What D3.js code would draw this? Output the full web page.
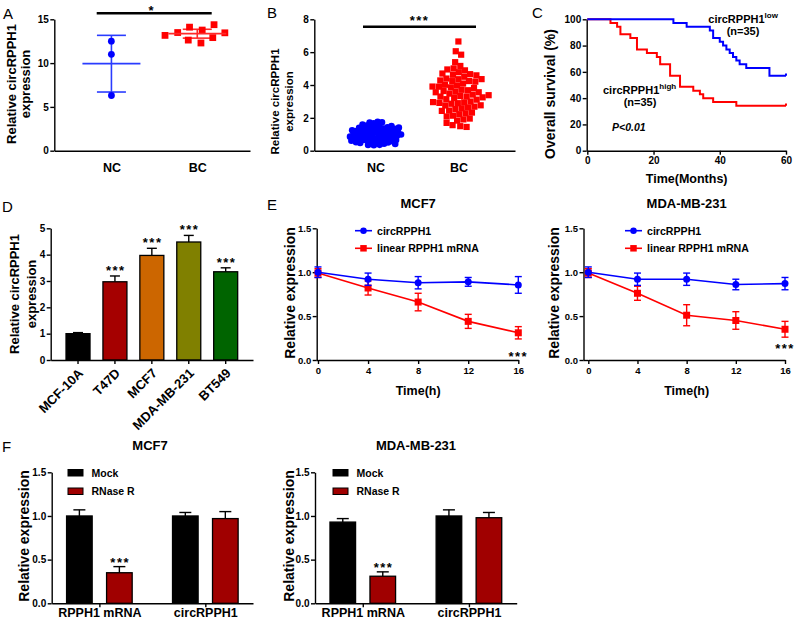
<!DOCTYPE html>
<html>
<head>
<meta charset="utf-8">
<script src="https://cdn.jsdelivr.net/npm/d3@7"></script>
<style>
  body { margin: 0; background: #fff; }
  svg text { font-family: "Liberation Sans", Arial, Helvetica, sans-serif; }
</style>
</head>
<body>
<svg id="fig" width="800" height="625"></svg>
<script>
// ---------- data ----------
const groupsAB = ["NC", "BC"];
// panel A: individual samples
const aNC = [12.5, 11.0, 6.3];
const aBC = [13.2, 13.6, 13.1, 13.4, 14.2, 13.4, 13.9, 12.8, 12.6];
// panel B: individual samples
const bNC = [0.42, 0.5, 0.53, 0.57, 0.6, 0.61, 0.63, 0.64, 0.66, 0.68, 0.69, 0.7, 0.72, 0.73, 0.75, 0.76,
  0.77, 0.79, 0.8, 0.81, 0.82, 0.84, 0.85, 0.86, 0.87, 0.88, 0.9, 0.9, 0.91, 0.93, 0.94, 0.95, 0.96,
  0.97, 0.98, 1.0, 1.01, 1.02, 1.03, 1.05, 1.06, 1.07, 1.09, 1.1, 1.11, 1.13, 1.14, 1.16, 1.17, 1.19,
  1.2, 1.22, 1.24, 1.25, 1.28, 1.3, 1.33, 1.36, 1.4, 1.44, 1.48, 1.53, 1.58, 1.64, 1.7, 1.76];
const bBC = [6.65, 6.05, 5.85, 5.35, 5.1, 5.0, 4.95, 4.85, 4.8, 4.7, 4.65, 4.55, 4.5, 4.45, 4.4, 4.35,
  4.3, 4.25, 4.2, 4.15, 4.1, 4.05, 4.0, 3.95, 3.9, 3.85, 3.8, 3.75, 3.72, 3.7, 3.65, 3.6, 3.55, 3.5,
  3.45, 3.42, 3.4, 3.38, 3.35, 3.3, 3.25, 3.2, 3.15, 3.1, 3.05, 3.0, 2.98, 2.95, 2.9, 2.85, 2.8, 2.75,
  2.7, 2.65, 2.6, 2.55, 2.5, 2.45, 2.4, 2.35, 2.3, 2.2, 2.1, 2.0, 1.9, 1.8, 1.7, 1.62, 1.55, 1.45];

// panel C: Kaplan-Meier steps (month, survival %)
const lowTimes = [26, 30, 37, 38, 40, 41, 42, 43, 44, 45, 46, 48, 55];
const lowSurv = [97.1, 94.3, 91.4, 85.7, 82.9, 80.0, 77.1, 74.3, 71.4, 68.6, 65.7, 62.9, 57.1];
const highTimes = [7, 9, 10, 13, 15, 18, 21, 22, 25, 28, 32, 34, 35, 38, 45];
const highSurv = [97.1, 94.3, 88.6, 85.7, 77.1, 74.3, 71.4, 65.7, 57.1, 48.6, 45.7, 42.9, 40.0, 37.1, 34.3];

// panel D
const cellLines = ["MCF-10A", "T47D", "MCF7", "MDA-MB-231", "BT549"];
const cellMean = [1.0, 2.97, 3.97, 4.48, 3.35];
const cellErr = [0.04, 0.22, 0.27, 0.25, 0.15];
const cellColors = ["#000000", "#a50000", "#cc6600", "#808000", "#006400"];

// panel E
const hours = [0, 4, 8, 12, 16];
const mcf7Circ = [1.0, 0.92, 0.88, 0.89, 0.855];
const mcf7CircErr = [0.06, 0.07, 0.07, 0.05, 0.095];
const mcf7Lin = [0.99, 0.82, 0.66, 0.44, 0.31];
const mcf7LinErr = [0.05, 0.08, 0.1, 0.08, 0.07];
const mdaCirc = [1.0, 0.92, 0.92, 0.86, 0.87];
const mdaCircErr = [0.06, 0.07, 0.07, 0.06, 0.07];
const mdaLin = [0.99, 0.76, 0.51, 0.45, 0.35];
const mdaLinErr = [0.05, 0.08, 0.12, 0.1, 0.09];

// panel F
const rnaTargets = ["RPPH1 mRNA", "circRPPH1"];
const treatments = ["Mock", "RNase R"];
const mcf7Mock = [1.0, 1.0];
const mcf7MockErr = [0.07, 0.04];
const mcf7Rnase = [0.35, 0.97];
const mcf7RnaseErr = [0.07, 0.08];
const mdaMock = [0.93, 1.0];
const mdaMockErr = [0.04, 0.07];
const mdaRnase = [0.31, 0.98];
const mdaRnaseErr = [0.05, 0.06];

const BLUE = "#0000ff";
const RED = "#ff0000";
const FONT = "'Liberation Sans', Arial, Helvetica, sans-serif";

const svg = d3.select("#fig");

// ---------- helpers ----------
function addText(x, y, s, o = {}) {
  return svg.append("text").attr("x", x).attr("y", y).text(s)
    .attr("font-size", o.size || 12)
    .attr("font-weight", o.weight || "bold")
    .attr("font-style", o.style || "normal")
    .attr("text-anchor", o.anchor || "start")
    .attr("letter-spacing", o.ls || 0)
    .attr("fill", o.fill || "#000");
}

function panelLetter(x, y, s) {
  addText(x, y, s, { size: 15, weight: "normal" });
}

function yTitle(lines, cy, size) {
  lines.forEach(([s, bx]) => {
    svg.append("text")
      .attr("transform", `translate(${bx},${cy}) rotate(-90)`)
      .attr("text-anchor", "middle")
      .attr("font-size", size)
      .attr("font-weight", "bold")
      .text(s);
  });
}

function styleAxis(g, fs) {
  g.attr("font-family", FONT).attr("font-size", fs);
  g.select(".domain").attr("stroke-width", 1.4);
  g.selectAll(".tick line").attr("stroke-width", 1.4);
  g.selectAll(".tick text").attr("font-weight", "bold").attr("fill", "#000");
}

function yAxis(x, y, ticks, fmt, fs = 10) {
  const g = svg.append("g").attr("transform", `translate(${x},0)`)
    .call(d3.axisLeft(y).tickValues(ticks).tickFormat(fmt).tickSize(4).tickSizeOuter(0).tickPadding(1.5));
  styleAxis(g, fs);
  return g;
}

function xAxis(y0, scale, o) {
  let ax = d3.axisBottom(scale).tickSize(o.tick).tickSizeOuter(0).tickPadding(o.pad);
  if (o.values) ax = ax.tickValues(o.values);
  if (o.fmt) ax = ax.tickFormat(o.fmt);
  const g = svg.append("g").attr("transform", `translate(0,${y0})`).call(ax);
  styleAxis(g, o.fs);
  return g;
}

function marker(g, shape, cx, cy, color, size) {
  if (shape === "circle") {
    g.append("circle").attr("cx", cx).attr("cy", cy).attr("r", size / 2).attr("fill", color);
  } else {
    g.append("rect").attr("x", cx - size / 2).attr("y", cy - size / 2)
      .attr("width", size).attr("height", size).attr("fill", color);
  }
}

function vline(g, x, y1, y2, color, w) {
  g.append("line").attr("x1", x).attr("x2", x).attr("y1", y1).attr("y2", y2)
    .attr("stroke", color).attr("stroke-width", w);
}
function hline(g, x1, x2, y, color, w) {
  g.append("line").attr("x1", x1).attr("x2", x2).attr("y1", y).attr("y2", y)
    .attr("stroke", color).attr("stroke-width", w);
}

// simple beeswarm: y fixed by value, x pushed apart by collisions
function swarm(values, cx, y, r) {
  const nodes = values.map((v, i) => ({ v, x: cx + ((i % 5) - 2) * 0.6, y: y(v) }));
  d3.forceSimulation(nodes)
    .force("x", d3.forceX(cx).strength(0.04))
    .force("y", d3.forceY(d => y(d.v)).strength(0.9))
    .force("c", d3.forceCollide(r))
    .stop()
    .tick(300);
  return nodes;
}

// ---------- A ----------
panelLetter(3, 19.3, "A");
const yA = d3.scaleLinear().domain([0, 15]).range([150.7, 19.3]);
const xA = d3.scalePoint().domain(groupsAB).range([54.3, 250]).padding(0.64).align(0.52);
yAxis(54.3, yA, [0, 5, 10, 15], d3.format("d"));
xAxis(150.7, xA, { tick: 0, pad: 12, fs: 12.5 });
yTitle([["Relative circRPPH1", 16.4], ["expression", 29.5]], 84, 13);

const gA = svg.append("g");
[[aNC, "NC", "#2a3cff", BLUE, "circle", 3.6], [aBC, "BC", "#ff2a2a", RED, "square", 6.5]].forEach(([vals, grp, lc, mc, shape, cr]) => {
  const cx = xA(grp);
  const m = d3.mean(vals), sd = d3.deviation(vals);
  vline(gA, cx, yA(m - sd), yA(m + sd), lc, 1.6);
  hline(gA, cx - 14.5, cx + 14.5, yA(m + sd), lc, 1.6);
  hline(gA, cx - 14.5, cx + 14.5, yA(m - sd), lc, 1.6);
  swarm(vals, cx, yA, cr).forEach(n => marker(gA, shape, n.x, n.y, mc, 6.8));
  hline(gA, cx - 29, cx + 29, yA(m), lc, 1.8);
});
hline(svg, 96.7, 211.7, 13.3, "#000", 2.5);
addText(151, 14.5, "*", { size: 13, anchor: "middle" });

// ---------- B ----------
panelLetter(267, 18.3, "B");
const yB = d3.scaleLinear().domain([0, 8]).range([150.7, 19.3]);
const xB = d3.scalePoint().domain(groupsAB).range([314.3, 515]).padding(0.71).align(0.52);
yAxis(314.3, yB, [0, 2, 4, 6, 8], d3.format("d"));
xAxis(150.7, xB, { tick: 0, pad: 12, fs: 12.5 });
yTitle([["Relative circRPPH1", 279.2], ["expression", 293.3]], 101.5, 11.5);

const gB = svg.append("g");
swarm(bNC, xB("NC"), yB, 2.1).forEach(n => marker(gB, "circle", n.x, n.y, BLUE, 6.6));
swarm(bBC, xB("BC"), yB, 3.2).forEach(n => marker(gB, "square", n.x, n.y, RED, 6.2));
hline(svg, 363, 476, 26.7, "#000", 2.5);
addText(419.5, 24.5, "***", { size: 13, anchor: "middle", ls: 1.5 });

// ---------- C ----------
panelLetter(532, 18.3, "C");
const xC = d3.scaleLinear().domain([0, 60]).range([587.3, 786]);
const yC = d3.scaleLinear().domain([0, 100]).range([150.7, 19.3]);
yAxis(586.7, yC, [0, 20, 40, 60, 80, 100], d3.format("d"));
xAxis(150.7, xC, { tick: 4, pad: 2, fs: 10, values: [0, 20, 40, 60], fmt: d3.format("d") });
yTitle([["Overall survival (%)", 554.5]], 94, 14);
addText(686.7, 183.3, "Time(Months)", { size: 12.5, anchor: "middle" });

function survPoints(times, surv) {
  const pts = [[0, 100]];
  times.forEach((t, i) => pts.push([t, surv[i]]));
  pts.push([60, surv[surv.length - 1]]);
  return pts;
}
const stepLine = d3.line().x(d => xC(d[0])).y(d => yC(d[1])).curve(d3.curveStepAfter);
[[highTimes, highSurv, RED], [lowTimes, lowSurv, BLUE]].forEach(([t, s, c]) => {
  svg.append("path").datum(survPoints(t, s)).attr("d", stepLine)
    .attr("fill", "none").attr("stroke", c).attr("stroke-width", 2);
  const last = s[s.length - 1];
  vline(svg, xC(60), yC(last), yC(last + 1.6), c, 2);
});

const lowLab = addText(708.3, 23.3, "circRPPH1", { size: 11 });
lowLab.append("tspan").attr("font-size", 8).attr("dy", -5).text("low");
addText(743, 35, "(n=35)", { size: 11, anchor: "middle" });
const highLab = addText(603, 94, "circRPPH1", { size: 11 });
highLab.append("tspan").attr("font-size", 8).attr("dy", -5).text("high");
addText(640, 105.5, "(n=35)", { size: 11, anchor: "middle" });
addText(612, 131, "P<0.01", { size: 10.5, style: "italic" });

// ---------- D ----------
panelLetter(2, 211.7, "D");
const yD = d3.scaleLinear().domain([0, 5]).range([360, 228.3]);
const xD = d3.scaleBand().domain(cellLines).range([50.7, 253]).paddingInner(0.35).paddingOuter(0.415);
yAxis(50.7, yD, [0, 1, 2, 3, 4, 5], d3.format("d"));
yTitle([["Relative circRPPH1", 18.8], ["expression", 35.5]], 294, 13);

const gD = svg.append("g");
cellLines.forEach((c, i) => {
  const cx = xD(c) + xD.bandwidth() / 2;
  const top = yD(cellMean[i] + cellErr[i]);
  vline(gD, cx, yD(cellMean[i]), top, "#000", 1.4);
  hline(gD, cx - 5, cx + 5, top, "#000", 1.4);
  gD.append("rect").attr("x", xD(c)).attr("y", yD(cellMean[i]))
    .attr("width", xD.bandwidth()).attr("height", yD(0) - yD(cellMean[i]))
    .attr("fill", cellColors[i]).attr("stroke", "#000").attr("stroke-width", 1.3);
  if (i > 0) addText(cx + 0.8, top - 1, "***", { size: 13, anchor: "middle", ls: 1.5 });
});
const gxD = xAxis(360, xD, { tick: 4, pad: 2, fs: 13 });
gxD.selectAll(".tick text")
  .attr("text-anchor", "end").attr("x", 0).attr("y", 0).attr("dy", 0)
  .attr("transform", "translate(6,14) rotate(-45)");

// ---------- E ----------
panelLetter(267, 210, "E");
function decayPanel(o) {
  const y = d3.scaleLinear().domain([0, 1.5]).range([360, 228.3]);
  const x = d3.scaleLinear().domain([0, 16]).range(o.xRange);
  yAxis(o.axisX, y, [0, 0.5, 1, 1.5], d3.format(".1f"), 9.5);
  hline(svg, o.axisX, o.xRange[0], 360.5, "#000", 1.4);
  xAxis(360, x, { tick: 4, pad: 3.5, fs: 9.5, values: hours, fmt: d3.format("d") });
  yTitle([["Relative expression", o.labelX]], 293, 14);
  addText((o.xRange[0] + o.xRange[1]) / 2, 208, o.title, { size: 13, anchor: "middle" });
  addText((o.xRange[0] + o.xRange[1]) / 2, 395, "Time(h)", { size: 12.5, anchor: "middle" });

  const series = [
    { v: o.lin, e: o.linErr, color: RED, shape: "square", size: 7 },
    { v: o.circ, e: o.circErr, color: BLUE, shape: "circle", size: 7 }
  ];
  series.forEach(s => {
    const g = svg.append("g");
    s.v.forEach((v, i) => {
      const cx = x(hours[i]);
      const y1 = y(v + s.e[i]), y2 = y(v - s.e[i]);
      vline(g, cx, y1, y2, s.color, 1.4);
      hline(g, cx - 3.5, cx + 3.5, y1, s.color, 1.4);
      hline(g, cx - 3.5, cx + 3.5, y2, s.color, 1.4);
    });
    g.append("path").datum(s.v)
      .attr("d", d3.line().x((d, i) => x(hours[i])).y(d => y(d)))
      .attr("fill", "none").attr("stroke", s.color).attr("stroke-width", 1.6);
    s.v.forEach((v, i) => marker(g, s.shape, x(hours[i]), y(v), s.color, s.size));
  });
  addText(x(16), o.starsY, "***", { size: 13, anchor: "middle", ls: 1.5 });

  // legend
  const legend = [["circRPPH1", BLUE, "circle", 230.7], ["linear RPPH1 mRNA", RED, "square", 248.3]];
  legend.forEach(([lab, c, shape, ly]) => {
    hline(svg, o.legendX, o.legendX + 17, ly, c, 1.6);
    marker(svg, shape, o.legendX + 8.5, ly, c, 6.5);
    addText(o.legendX + 22, ly + 3.8, lab, { size: 10.6 });
  });
}
decayPanel({ title: "MCF7", axisX: 316.7, xRange: [318, 518.3], labelX: 295, starsY: 361,
  circ: mcf7Circ, circErr: mcf7CircErr, lin: mcf7Lin, linErr: mcf7LinErr, legendX: 355 });
decayPanel({ title: "MDA-MB-231", axisX: 583.5, xRange: [588.3, 785], labelX: 558.6, starsY: 353,
  circ: mdaCirc, circErr: mdaCircErr, lin: mdaLin, linErr: mdaLinErr, legendX: 625 });

// ---------- F ----------
panelLetter(2, 451.7, "F");
function rnasePanel(o) {
  const y = d3.scaleLinear().domain([0, 1.5]).range([603.3, 472.3]);
  const x = d3.scalePoint().domain(rnaTargets).range([o.axisX, o.xEnd]).padding(0.45);
  const xs = d3.scaleBand().domain(treatments).range([-40, 40]).paddingInner(0.36).paddingOuter(0.18);
  yAxis(o.axisX, y, [0, 0.5, 1, 1.5], d3.format(".1f"), 10);
  yTitle([["Relative expression", o.labelX]], 536, 14);
  addText(o.titleX, 450, o.title, { size: 13, anchor: "middle" });

  const sets = [[o.mock, o.mockErr, "#000000"], [o.rnase, o.rnaseErr, "#a00000"]];
  const g = svg.append("g");
  rnaTargets.forEach((t, j) => {
    sets.forEach(([vals, errs, fill], k) => {
      const bx = x(t) + xs(treatments[k]);
      const cx = bx + xs.bandwidth() / 2;
      const top = y(vals[j] + errs[j]);
      vline(g, cx, y(vals[j]), top, "#000", 1.4);
      hline(g, cx - 6, cx + 6, top, "#000", 1.4);
      g.append("rect").attr("x", bx).attr("y", y(vals[j]))
        .attr("width", xs.bandwidth()).attr("height", y(0) - y(vals[j]))
        .attr("fill", fill).attr("stroke", "#000").attr("stroke-width", 1.3);
      if (j === 0 && k === 1) addText(cx + 0.8, top, "***", { size: 13, anchor: "middle", ls: 1.5 });
    });
  });
  xAxis(603.3, x, { tick: 4, pad: 1, fs: 12.5 });

  // legend
  [["Mock", "#000000", 469.5], ["RNase R", "#a00000", 488]].forEach(([lab, c, ly]) => {
    svg.append("rect").attr("x", o.legendX).attr("y", ly).attr("width", 15).attr("height", 6.5)
      .attr("fill", c).attr("stroke", "#000").attr("stroke-width", 1);
    addText(o.legendX + 23.5, ly + 7, lab, { size: 10.5 });
  });
}
rnasePanel({ title: "MCF7", titleX: 150, axisX: 51.7, xEnd: 253, labelX: 29,
  mock: mcf7Mock, mockErr: mcf7MockErr, rnase: mcf7Rnase, rnaseErr: mcf7RnaseErr, legendX: 68 });
rnasePanel({ title: "MDA-MB-231", titleX: 416, axisX: 315, xEnd: 516.7, labelX: 293.6,
  mock: mdaMock, mockErr: mdaMockErr, rnase: mdaRnase, rnaseErr: mdaRnaseErr, legendX: 333 });
</script>
</body>
</html>
